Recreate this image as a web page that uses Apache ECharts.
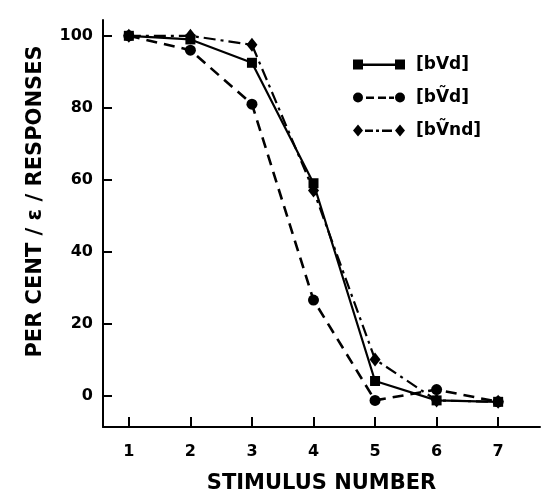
<!DOCTYPE html>
<html>
<head>
<meta charset="utf-8">
<script src="https://cdn.jsdelivr.net/npm/echarts@6/dist/echarts.min.js"></script>
<style>
  html, body { margin: 0; padding: 0; background: #fff; }
  #chart { width: 543px; height: 499px; }
</style>
</head>
<body>
<div id="chart"></div>
<script>
  var stimuli = [1, 2, 3, 4, 5, 6, 7];
  var yTicks = [0, 20, 40, 60, 80, 100];
  var seriesNames = ['[bVd]', '[bV\u0303d]', '[bV\u0303nd]'];
  var bvd = [100, 99, 92.5, 59, 4, -1.4, -1.8];
  var bvtd = [100, 96, 81, 26.5, -1.4, 1.6, -1.8];
  var bvtnd = [100, 100, 97.5, 57, 10, -1.4, -1.8];

  var ink = '#000';
  var font = 'DejaVu Sans';

  function pairs(values) {
    return stimuli.map(function (x, i) { return [x, values[i]]; });
  }

  // legend icons: symbol at both ends, line pattern between
  var iconSolid = 'path://M0,1h10v10h-10z M10,5h32v2.4h-32z M42,1h10v10h-10z';
  var iconDashed = 'path://M0,6a5,5 0 1 0 10,0a5,5 0 1 0 -10,0z M13,5h8v2.4h-8z M25,5h8v2.4h-8z M36,5h5v2.4h-5z M42,6a5,5 0 1 0 10,0a5,5 0 1 0 -10,0z';
  var iconDashDot = 'path://M0,6L5,0L10,6L5,12z M12,5h8v2.4h-8z M23,5h3v2.4h-3z M29,5h10v2.4h-10z M42,6L47,0L52,6L47,12z';

  var chart = echarts.init(document.getElementById('chart'), null, { renderer: 'canvas' });

  chart.setOption({
    backgroundColor: '#fff',
    animation: false,
    grid: { left: 103, right: 3, top: 20, bottom: 69 },
    legend: {
      orient: 'vertical',
      left: 348,
      top: 51,
      itemWidth: 52,
      itemHeight: 12,
      itemGap: 16,
      itemStyle: { borderWidth: 0 },
      textStyle: { fontFamily: font, fontSize: 17, fontWeight: 'bold', color: ink, padding: [0, 0, 0, 6] },
      data: [
        { name: seriesNames[0], icon: iconSolid },
        { name: seriesNames[1], icon: iconDashed },
        { name: seriesNames[2], icon: iconDashDot }
      ]
    },
    xAxis: {
      type: 'value',
      min: 0.58,
      max: 7.68,
      name: 'STIMULUS NUMBER',
      nameLocation: 'middle',
      nameGap: 46,
      nameTextStyle: { fontFamily: font, fontSize: 21, fontWeight: 'bold', color: ink },
      splitLine: { show: false },
      axisLine: { onZero: false, lineStyle: { color: ink, width: 2 } },
      axisTick: { inside: true, length: 10, lineStyle: { color: ink, width: 2 }, customValues: stimuli },
      axisLabel: { fontFamily: font, fontSize: 16, fontWeight: 'bold', color: ink, margin: 17, customValues: stimuli }
    },
    yAxis: {
      type: 'value',
      min: -8.8,
      max: 104.4,
      name: 'PER CENT / \u025B / RESPONSES',
      nameLocation: 'middle',
      nameGap: 57,
      nameTextStyle: { fontFamily: font, fontSize: 21, fontWeight: 'bold', color: ink, padding: [0, 0, 0, 44] },
      splitLine: { show: false },
      axisLine: { show: true, onZero: false, lineStyle: { color: ink, width: 2 } },
      axisTick: { show: true, inside: true, length: 9, lineStyle: { color: ink, width: 2 }, customValues: yTicks },
      axisLabel: { fontFamily: font, fontSize: 16, fontWeight: 'bold', color: ink, margin: 10, customValues: yTicks }
    },
    series: [
      {
        name: seriesNames[0],
        type: 'line',
        data: pairs(bvd),
        symbol: 'rect',
        symbolSize: 10,
        itemStyle: { color: ink, borderWidth: 0 },
        lineStyle: { color: ink, width: 2.2, type: 'solid' },
        z: 3
      },
      {
        name: seriesNames[1],
        type: 'line',
        data: pairs(bvtd),
        symbol: 'circle',
        symbolSize: 11,
        itemStyle: { color: ink, borderWidth: 0 },
        lineStyle: { color: ink, width: 2.6, type: [11, 7] },
        z: 2
      },
      {
        name: seriesNames[2],
        type: 'line',
        data: pairs(bvtnd),
        symbol: 'diamond',
        symbolSize: [11, 14],
        itemStyle: { color: ink, borderWidth: 0 },
        lineStyle: { color: ink, width: 2.2, type: [12, 5, 3, 5] },
        z: 2
      }
    ]
  });
</script>
</body>
</html>
